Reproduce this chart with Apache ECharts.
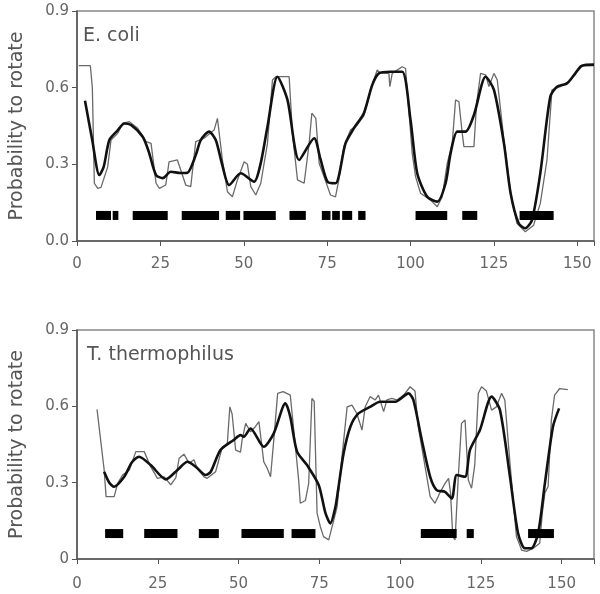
<!DOCTYPE html>
<html><head><meta charset="utf-8">
<script src="https://cdn.jsdelivr.net/npm/echarts@6/dist/echarts.min.js"></script>
<style>html,body{margin:0;padding:0;background:#fff}#c{width:600px;height:594px}</style>
</head><body><div id="c"></div>
<script>
// ---- data ----
const ecoliSmooth = [[2.4,0.549],[4.5,0.40],[6.7,0.258],[8,0.29],[9.7,0.395],[12,0.43],[14.2,0.46],[16.2,0.454],[19.7,0.408],[21.5,0.35],[23.7,0.258],[25.7,0.246],[28.1,0.271],[31.1,0.266],[33.1,0.267],[35.6,0.336],[37.1,0.395],[39.6,0.428],[41.6,0.395],[43.5,0.30],[45.6,0.219],[49.1,0.265],[53.1,0.232],[55,0.30],[57.1,0.447],[60.1,0.643],[63.1,0.552],[66.6,0.317],[71.1,0.402],[73,0.32],[75.1,0.232],[77.5,0.226],[80.5,0.382],[83.0,0.441],[86.0,0.5],[88.5,0.61],[90.5,0.656],[94.0,0.662],[97.5,0.662],[100,0.473],[102.0,0.265],[105.0,0.173],[108.0,0.154],[110.5,0.226],[112.0,0.343],[114.0,0.428],[116.5,0.428],[119.0,0.493],[122.5,0.643],[125.0,0.591],[128.0,0.382],[130.0,0.187],[132.4,0.069],[134.4,0.05],[136.4,0.082],[138.9,0.265],[141.9,0.565],[143.9,0.604],[146.9,0.617],[149.4,0.656],[151.4,0.686],[155,0.69]];
const ecoliRaw = [[0.5,0.686],[4.0,0.686],[4.6,0.6],[5.2,0.226],[6.2,0.206],[7.2,0.21],[9.2,0.29],[10.2,0.395],[12.2,0.421],[13.7,0.46],[15.7,0.467],[18.2,0.441],[20.7,0.389],[22.2,0.382],[23.7,0.226],[24.7,0.206],[26.6,0.219],[27.6,0.31],[30.1,0.317],[31.1,0.278],[32.6,0.219],[34.1,0.213],[35.6,0.389],[38.1,0.402],[41.1,0.434],[42.1,0.48],[42.6,0.48],[43.6,0.317],[45.1,0.193],[46.6,0.173],[48.1,0.239],[50.1,0.31],[51.1,0.30],[52.1,0.213],[53.6,0.18],[55.1,0.226],[57.1,0.382],[58.6,0.63],[59.6,0.643],[63.6,0.643],[64.6,0.421],[66.1,0.239],[68.1,0.226],[69.6,0.382],[70.4,0.5],[71.6,0.48],[72.6,0.304],[74.1,0.25],[76.0,0.18],[77.5,0.173],[78.5,0.239],[80.0,0.369],[82.0,0.434],[84.0,0.454],[86.0,0.49],[88.0,0.591],[90.0,0.669],[91.0,0.656],[93.5,0.656],[93.8,0.604],[94.5,0.656],[97.5,0.682],[98.5,0.675],[100.5,0.343],[101.5,0.252],[103.0,0.187],[106.0,0.16],[108.0,0.134],[109.5,0.173],[111.0,0.304],[112.5,0.382],[113.5,0.552],[114.5,0.545],[115.5,0.421],[116.0,0.369],[119.0,0.369],[119.8,0.539],[121.0,0.656],[122.5,0.65],[123.5,0.604],[125.0,0.656],[126.0,0.63],[128.0,0.395],[130.0,0.187],[131.9,0.069],[134.4,0.036],[136.9,0.062],[138.9,0.147],[140.9,0.317],[142.4,0.591],[144.9,0.604],[147.4,0.623],[149.4,0.656],[150.9,0.686],[155,0.686]];
const ecoliSegments = [[5.7,10.2],[10.7,12.4],[16.7,27.2],[31.4,42.6],[44.6,48.9],[49.9,59.6],[63.7,68.6],[73.4,76.0],[76.5,78.8],[79.5,82.5],[84.3,86.5],[101.5,111.0],[115.5,120.0],[132.7,142.9]];

const thermoSmooth = [[8.4,0.343],[10,0.30],[11.5,0.284],[14.6,0.323],[17,0.38],[19.2,0.402],[22.8,0.369],[27.5,0.313],[31.1,0.35],[34.2,0.382],[36.7,0.363],[39.8,0.33],[41.4,0.343],[44.4,0.428],[48.5,0.468],[50.6,0.487],[51.6,0.48],[53.7,0.513],[57.8,0.441],[60.9,0.494],[64.5,0.612],[66.0,0.559],[68.1,0.422],[71.2,0.369],[74.8,0.291],[76.9,0.18],[78.4,0.14],[79.9,0.20],[80.8,0.271],[82.5,0.415],[84.6,0.52],[87.1,0.572],[90.7,0.598],[93.8,0.618],[98.5,0.618],[102.6,0.651],[104.1,0.625],[106.7,0.468],[109.3,0.323],[111.3,0.271],[113.9,0.264],[116.0,0.238],[117.5,0.33],[120.1,0.323],[121.6,0.428],[124.7,0.507],[128.3,0.638],[130.9,0.585],[134.0,0.323],[136.5,0.101],[138.6,0.042],[140.6,0.042],[142.7,0.101],[144.8,0.297],[147.3,0.52],[149.2,0.592]];
const thermoRaw = [[6.2,0.588],[8.4,0.35],[9.0,0.245],[11.5,0.245],[12.6,0.297],[14.1,0.33],[16.2,0.35],[18.2,0.422],[20.8,0.422],[22.8,0.363],[24.9,0.317],[27.0,0.323],[29.0,0.291],[30.6,0.32],[31.6,0.396],[33.1,0.412],[34.7,0.376],[36.2,0.39],[37.2,0.356],[39.3,0.323],[40.3,0.317],[42.9,0.343],[45.0,0.441],[46.5,0.45],[47.3,0.598],[48.0,0.57],[49.1,0.428],[50.6,0.42],[51.1,0.468],[52.2,0.533],[53.7,0.5],[55.2,0.52],[56.3,0.54],[57.8,0.382],[58.9,0.356],[59.9,0.323],[60.9,0.468],[62.1,0.651],[63.8,0.658],[66.0,0.644],[67.6,0.441],[68.6,0.31],[69.1,0.219],[70.7,0.23],[71.7,0.297],[72.7,0.631],[73.4,0.62],[74.3,0.18],[75.3,0.127],[76.3,0.088],[77.9,0.075],[78.4,0.1],[80.5,0.205],[82.0,0.402],[83.6,0.598],[85.1,0.605],[86.6,0.572],[88.2,0.507],[89.2,0.598],[90.7,0.638],[92.3,0.625],[93.3,0.644],[94.9,0.579],[95.9,0.625],[97.4,0.631],[99.0,0.625],[101.1,0.644],[103.1,0.677],[104.6,0.66],[105.6,0.52],[107.2,0.402],[109.3,0.245],[110.8,0.219],[112.3,0.26],[113.9,0.297],[115.0,0.317],[115.6,0.26],[116.3,0.088],[117.0,0.075],[118.0,0.323],[119.0,0.533],[120.1,0.546],[121.1,0.31],[122.1,0.278],[123.1,0.37],[124.2,0.651],[125.2,0.677],[126.7,0.66],[128.3,0.585],[129.8,0.598],[131.4,0.651],[132.4,0.625],[134.0,0.376],[136.0,0.088],[137.6,0.035],[139.1,0.03],[141.2,0.042],[143.2,0.062],[144.0,0.18],[144.8,0.26],[145.8,0.285],[146.8,0.546],[147.8,0.644],[149.4,0.67],[151.9,0.666]];
const thermoSegments = [[8.7,14.3],[20.8,31.1],[37.7,43.9],[50.9,64.0],[66.4,73.8],[106.4,117.5],[120.6,122.8],[139.6,147.6]];

const segmentLevel = 0.1;
const xTicks = [0, 25, 50, 75, 100, 125, 150];
const yTicksTop = ['0.0', '0.3', '0.6', '0.9'];
const yTicksBottom = ['0', '0.3', '0.6', '0.9'];
const panelLabels = ['E. coli', 'T. thermophilus'];
const yTitle = 'Probability to rotate';

// ---- chart ----
const chart = echarts.init(document.getElementById('c'), null, {renderer: 'canvas'});
const FONT = 'DejaVu Sans';
const axisCol = '#555';
const labelCol = '#666';

function xAxis(idx, max) {
  return {
    type: 'value', gridIndex: idx, min: 0, max: max, interval: 25,
    axisLine: {show: true, onZero: false, lineStyle: {color: axisCol, width: 1.5}},
    axisTick: {show: true, inside: false, length: 5, lineStyle: {color: axisCol}},
    axisLabel: {color: labelCol, fontFamily: FONT, fontSize: 15, margin: idx === 0 ? 16 : 18,
      formatter: v => xTicks.indexOf(v) >= 0 ? String(v) : ''},
    splitLine: {show: false}
  };
}
function yAxis(idx, labels) {
  return {
    type: 'value', gridIndex: idx, min: 0, max: 0.9, interval: 0.3,
    name: yTitle, nameLocation: 'middle', nameGap: 50, nameRotate: 90,
    nameTextStyle: {color: '#555', fontFamily: FONT, fontSize: 19},
    axisLine: {show: true, lineStyle: {color: axisCol, width: 1.5}},
    axisTick: {show: true, inside: false, length: 5, lineStyle: {color: axisCol}},
    axisLabel: {color: labelCol, fontFamily: FONT, fontSize: 15, margin: 8,
      formatter: v => labels[Math.round(v / 0.3)] || ''},
    splitLine: {show: false}
  };
}
function segSeries(idx, segs) {
  return {
    type: 'custom', xAxisIndex: idx, yAxisIndex: idx, silent: true, z: 5,
    data: segs,
    renderItem: function (params, api) {
      const a = api.coord([api.value(0), segmentLevel]);
      const b = api.coord([api.value(1), segmentLevel]);
      return {type: 'rect', shape: {x: a[0], y: a[1] - 4.5, width: b[0] - a[0], height: 9},
        style: {fill: '#000'}};
    }
  };
}
function rawLine(idx, data) {
  return {type: 'line', xAxisIndex: idx, yAxisIndex: idx, data: data, showSymbol: false, symbol: 'none',
    lineStyle: {color: '#6a6a6a', width: 1.3}, z: 3, silent: true};
}
function smoothLine(idx, data) {
  return {type: 'line', xAxisIndex: idx, yAxisIndex: idx, data: data, showSymbol: false, symbol: 'none',
    smooth: 0.25, lineStyle: {color: '#111', width: 2.6}, z: 4, silent: true};
}

chart.setOption({
  animation: false,
  backgroundColor: '#fff',
  grid: [
    {left: 76, top: 11, width: 518, height: 230, show: true, borderColor: '#888', borderWidth: 1.5, containLabel: false},
    {left: 76, top: 330, width: 518, height: 229, show: true, borderColor: '#888', borderWidth: 1.5, containLabel: false}
  ],
  xAxis: [xAxis(0, 155), xAxis(1, 160)],
  yAxis: [yAxis(0, yTicksTop), yAxis(1, yTicksBottom)],
  graphic: [
    {type: 'text', left: 83, top: 27, style: {text: panelLabels[0], fill: '#555', font: '19px "DejaVu Sans"'}},
    {type: 'text', left: 87, top: 346, style: {text: panelLabels[1], fill: '#555', font: '19px "DejaVu Sans"'}}
  ],
  series: [
    rawLine(0, ecoliRaw), smoothLine(0, ecoliSmooth), segSeries(0, ecoliSegments),
    rawLine(1, thermoRaw), smoothLine(1, thermoSmooth), segSeries(1, thermoSegments)
  ]
});
</script>
</body></html>
